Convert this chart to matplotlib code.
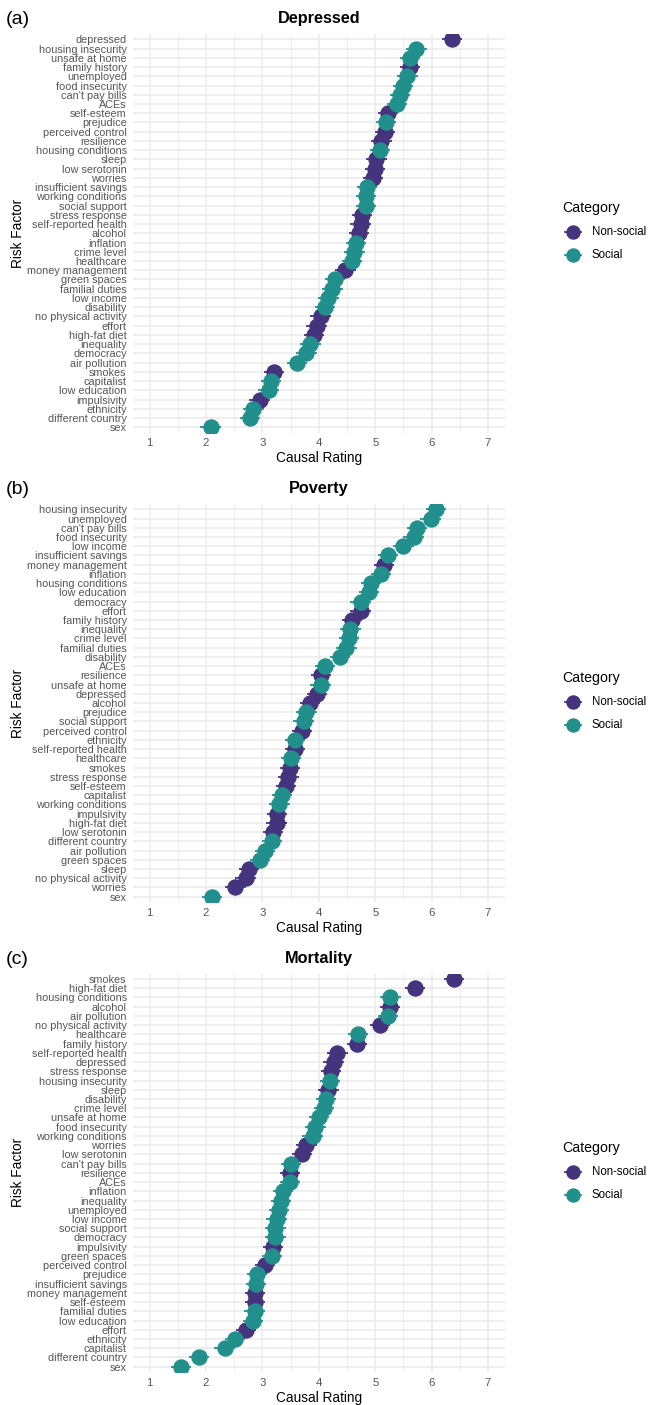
import matplotlib
matplotlib.use("Agg")
import matplotlib.pyplot as plt
from matplotlib.lines import Line2D

plt.rcParams['font.family'] = ['Liberation Sans', 'DejaVu Sans']

# ratings, top row first
dep_factors = ["depressed", "housing insecurity", "unsafe at home", "family history", "unemployed",
               "food insecurity", "can't pay bills", "ACEs", "self-esteem", "prejudice",
               "perceived control", "resilience", "housing conditions", "sleep", "low serotonin",
               "worries", "insufficient savings", "working conditions", "social support",
               "stress response", "self-reported health", "alcohol", "inflation", "crime level",
               "healthcare", "money management", "green spaces", "familial duties", "low income",
               "disability", "no physical activity", "effort", "high-fat diet", "inequality",
               "democracy", "air pollution", "smokes", "capitalist", "low education",
               "impulsivity", "ethnicity", "different country", "sex"]
dep_ratings = [6.36, 5.73, 5.62, 5.62, 5.57, 5.49, 5.44, 5.39, 5.23, 5.19,
               5.17, 5.11, 5.09, 5.02, 5.00, 4.96, 4.85, 4.84, 4.84, 4.76,
               4.74, 4.71, 4.66, 4.63, 4.59, 4.47, 4.29, 4.24, 4.17, 4.11,
               4.03, 3.96, 3.91, 3.85, 3.78, 3.61, 3.20, 3.15, 3.11, 2.95,
               2.84, 2.78, 2.08]

pov_factors = ["housing insecurity", "unemployed", "can't pay bills", "food insecurity", "low income",
               "insufficient savings", "money management", "inflation", "housing conditions",
               "low education", "democracy", "effort", "family history", "inequality", "crime level",
               "familial duties", "disability", "ACEs", "resilience", "unsafe at home", "depressed",
               "alcohol", "prejudice", "social support", "perceived control", "ethnicity",
               "self-reported health", "healthcare", "smokes", "stress response", "self-esteem",
               "capitalist", "working conditions", "impulsivity", "high-fat diet", "low serotonin",
               "different country", "air pollution", "green spaces", "sleep", "no physical activity",
               "worries", "sex"]
pov_ratings = [6.08, 5.98, 5.74, 5.68, 5.50, 5.22, 5.15, 5.10, 4.92, 4.89,
               4.74, 4.74, 4.59, 4.56, 4.53, 4.49, 4.38, 4.11, 4.04, 4.03,
               3.97, 3.84, 3.78, 3.73, 3.70, 3.58, 3.58, 3.51, 3.49, 3.46,
               3.42, 3.35, 3.30, 3.26, 3.25, 3.19, 3.17, 3.05, 2.96, 2.76,
               2.70, 2.52, 2.11]

mort_factors = ["smokes", "high-fat diet", "housing conditions", "alcohol", "air pollution",
                "no physical activity", "healthcare", "family history", "self-reported health",
                "depressed", "stress response", "housing insecurity", "sleep", "disability",
                "crime level", "unsafe at home", "food insecurity", "working conditions", "worries",
                "low serotonin", "can't pay bills", "resilience", "ACEs", "inflation", "inequality",
                "unemployed", "low income", "social support", "democracy", "impulsivity",
                "green spaces", "perceived control", "prejudice", "insufficient savings",
                "money management", "self-esteem", "familial duties", "low education", "effort",
                "ethnicity", "capitalist", "different country", "sex"]
mort_ratings = [6.39, 5.71, 5.27, 5.26, 5.23, 5.09, 4.69, 4.68, 4.33, 4.26,
                4.22, 4.20, 4.17, 4.13, 4.09, 4.00, 3.94, 3.89, 3.78, 3.70,
                3.51, 3.49, 3.49, 3.36, 3.33, 3.29, 3.25, 3.23, 3.23, 3.19,
                3.17, 3.05, 2.90, 2.89, 2.87, 2.87, 2.86, 2.83, 2.71, 2.51,
                2.33, 1.88, 1.56]

non_social = ["depressed", "family history", "self-esteem", "perceived control", "resilience",
              "sleep", "low serotonin", "worries", "stress response", "self-reported health",
              "alcohol", "money management", "no physical activity", "effort", "high-fat diet",
              "smokes", "impulsivity"]

err_half = 0.18

purple = '#46337E'
teal = '#21908C'
grid_col = '#EBEBEB'
text_grey = '#555555'

W, H = 657, 1405


def fx(x):
    return x / W


def fy(y):
    return 1 - y / H


fig = plt.figure(figsize=(W / 100, H / 100), dpi=100)

panels = [("(a)", "Depressed", dep_factors, dep_ratings, 33.8, 432.8),
          ("(b)", "Poverty", pov_factors, pov_ratings, 503.8, 902.2),
          ("(c)", "Mortality", mort_factors, mort_ratings, 973.5, 1372.2)]

left, right = 132.7, 505.0

for tag, title, factors, ratings, top, bottom in panels:
    ax = fig.add_axes([fx(left), fy(bottom), (right - left) / W, (bottom - top) / H])
    n = len(factors)
    for cat, col in [("Non-social", purple), ("Social", teal)]:
        xs = [r for f, r in zip(factors, ratings) if (f in non_social) == (cat == "Non-social")]
        ys = [n - 1 - i for i, f in enumerate(factors) if (f in non_social) == (cat == "Non-social")]
        ax.errorbar(xs, ys, xerr=err_half, fmt='o', color=col, ms=10.8,
                    elinewidth=1.3, capsize=0, zorder=3)

    ax.set_xlim(0.7, 7.3)
    ax.set_ylim(-0.6, n - 0.4)
    ax.set_xticks(range(1, 8))
    ax.set_xticks([1.5, 2.5, 3.5, 4.5, 5.5, 6.5], minor=True)
    ax.set_yticks(range(n))
    ax.set_yticklabels(factors[::-1])
    ax.grid(which='major', color=grid_col, lw=1.1, zorder=0)
    ax.grid(which='minor', axis='x', color=grid_col, lw=0.6, zorder=0)
    ax.set_axisbelow(True)
    for s in ax.spines.values():
        s.set_visible(False)
    ax.tick_params(which='both', length=0, colors=text_grey, labelsize=7.8)
    ax.tick_params(axis='x', labelsize=8.2, pad=4)
    ax.tick_params(axis='y', pad=4.3)

    fig.text(fx((left + right) / 2), fy(top - 10.5), title, fontsize=11.7,
             fontweight='bold', ha='center', va='baseline')
    fig.text(fx(6), fy(top - 10), tag, fontsize=14, ha='left', va='baseline')
    fig.text(fx((left + right) / 2), fy(bottom + 29.5), "Causal Rating", fontsize=9.8,
             ha='center', va='baseline')
    mid = (top + bottom) / 2
    fig.text(fx(18.5), fy(mid), "Risk Factor", fontsize=9.8, rotation=90,
             ha='center', va='center')

    # legend
    fig.text(fx(562.7), fy(mid - 25), "Category", fontsize=10.2, ha='left', va='center')
    for k, (lab, col) in enumerate([("Non-social", purple), ("Social", teal)]):
        yk = mid - 1 + 23 * k
        fig.add_artist(Line2D([fx(565), fx(581)], [fy(yk), fy(yk)], color=col, lw=1.3,
                              transform=fig.transFigure))
        fig.add_artist(Line2D([fx(573)], [fy(yk)], marker='o', ms=9.4, color=col,
                              transform=fig.transFigure))
        fig.text(fx(592), fy(yk), lab, fontsize=8.3, color='black', ha='left', va='center')

fig.savefig("out.png", dpi=100)
